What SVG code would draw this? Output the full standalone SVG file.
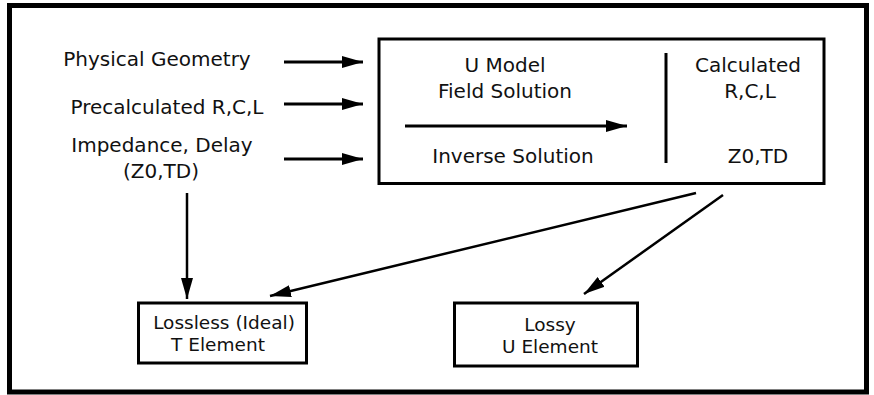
<svg xmlns="http://www.w3.org/2000/svg" width="874" height="395" viewBox="0 0 874 395">
<defs>
<style>
text{font-family:"DejaVu Sans","Liberation Sans",sans-serif;font-size:20px;fill:#111;}
.m{text-anchor:middle;}
.s{font-size:18.5px;}
.box{fill:#fff;stroke:#000;stroke-width:3;}
.ln{stroke:#000;stroke-width:3;fill:none;}
.ln2{stroke:#000;stroke-width:2.5;fill:none;}
</style>
<marker id="ah" markerUnits="userSpaceOnUse" markerWidth="22" markerHeight="14" refX="21" refY="7" orient="auto">
<polygon points="0,1 21,7 0,13" fill="#000"/>
</marker>
</defs>
<rect x="9.5" y="5.5" width="857" height="386.5" fill="#fff" stroke="#000" stroke-width="5"/>

<g id="inputs">
<text class="m" x="157" y="66">Physical Geometry</text>
<text class="m" x="167" y="114">Precalculated R,C,L</text>
<text class="m" x="162" y="152">Impedance, Delay</text>
<text class="m" x="161" y="178">(Z0,TD)</text>
</g>

<g id="model">
<rect class="box" x="379" y="39" width="445" height="144.5"/>
<text class="m" x="505" y="72">U Model</text>
<text class="m" x="505" y="98">Field Solution</text>
<text class="m" x="513" y="163">Inverse Solution</text>
<line class="ln" x1="666" y1="53" x2="666" y2="163"/>
<text class="m" x="748" y="72">Calculated</text>
<text class="m" x="750" y="98">R,C,L</text>
<text class="m" x="758" y="163">Z0,TD</text>
</g>

<g id="lossless">
<rect class="box" x="138.5" y="303" width="168" height="60"/>
<text class="m s" x="224" y="329">Lossless (Ideal)</text>
<text class="m s" x="218" y="351">T Element</text>
</g>

<g id="lossy">
<rect class="box" x="454.5" y="303" width="183" height="63"/>
<text class="m s" x="550" y="331">Lossy</text>
<text class="m s" x="550" y="353">U Element</text>
</g>

<g id="connectors">
<line class="ln" x1="284" y1="62" x2="363" y2="62" marker-end="url(#ah)"/>
<line class="ln" x1="284" y1="104" x2="363" y2="104" marker-end="url(#ah)"/>
<line class="ln" x1="284" y1="159" x2="363" y2="159" marker-end="url(#ah)"/>
<line class="ln" x1="405" y1="126" x2="627" y2="126" marker-end="url(#ah)"/>
<line class="ln2" x1="187" y1="193" x2="187" y2="299" marker-end="url(#ah)"/>
<line class="ln2" x1="696" y1="193" x2="270" y2="296" marker-end="url(#ah)"/>
<line class="ln2" x1="723" y1="195" x2="584" y2="294" marker-end="url(#ah)"/>
</g>
</svg>
